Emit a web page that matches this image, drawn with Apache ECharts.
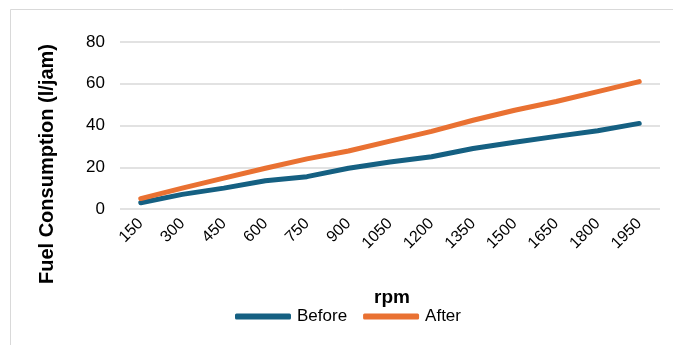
<!DOCTYPE html>
<html>
<head>
<meta charset="utf-8">
<script src="https://cdn.jsdelivr.net/npm/echarts@6/dist/echarts.min.js"></script>
<style>
  html, body { margin: 0; padding: 0; background: #fff; }
  #chart { width: 673px; height: 345px; }
</style>
</head>
<body>
<div id="chart"></div>
<script>
// Engine speed steps (rpm)
const rpm = ['150', '300', '450', '600', '750', '900', '1050', '1200', '1350', '1500', '1650', '1800', '1950'];
// Fuel consumption (l/jam)
const before = [3, 7, 10, 13.5, 15.5, 19.5, 22.5, 25, 29, 32, 34.8, 37.5, 41];
const after = [5, 10, 14.8, 19.5, 24, 27.8, 32.5, 37.2, 42.5, 47.3, 51.5, 56.2, 61];
const yTicks = [0, 20, 40, 60, 80];

const font = '"Liberation Sans", Arial, sans-serif';
const chart = echarts.init(document.getElementById('chart'), null, { renderer: 'canvas' });

chart.setOption({
  animation: false,
  backgroundColor: '#fff',
  grid: { left: 120, right: 13, top: 42, bottom: 136, containLabel: false },
  graphic: [
    {
      type: 'rect',
      shape: { x: 10.5, y: 9.5, width: 700, height: 400 },
      style: { fill: 'none', stroke: '#d9d9d9', lineWidth: 1 },
      silent: true
    },
    {
      type: 'text',
      x: 47, y: 164,
      rotation: Math.PI / 2,
      style: {
        text: 'Fuel Consumption (l/jam)',
        font: 'bold 20px ' + font,
        fill: '#000',
        align: 'center',
        verticalAlign: 'middle'
      }
    },
    {
      type: 'text',
      x: 392, y: 298,
      style: {
        text: 'rpm',
        font: 'bold 19px ' + font,
        fill: '#000',
        align: 'center',
        verticalAlign: 'middle'
      }
    }
  ],
  legend: {
    left: 230,
    top: 303,
    itemWidth: 56,
    itemHeight: 6,
    itemGap: 16,
    icon: 'roundRect',
    textStyle: { fontFamily: font, fontSize: 17, color: '#000', padding: [0, 0, 0, 1] },
    data: ['Before', 'After']
  },
  xAxis: {
    type: 'category',
    data: rpm,
    boundaryGap: true,
    axisLine: { show: false },
    axisTick: { show: false },
    axisLabel: {
      rotate: 45,
      margin: 12,
      interval: 0,
      fontFamily: font,
      fontSize: 16,
      color: '#000'
    }
  },
  yAxis: {
    type: 'value',
    min: yTicks[0],
    max: yTicks[yTicks.length - 1],
    interval: 20,
    axisLine: { show: false },
    axisTick: { show: false },
    axisLabel: { margin: 15, fontFamily: font, fontSize: 17, color: '#000' },
    splitLine: { lineStyle: { color: '#d9d9d9', width: 1.5 } }
  },
  series: [
    {
      name: 'Before',
      type: 'line',
      data: before,
      symbol: 'none',
      color: '#156082',
      lineStyle: { width: 5, cap: 'round', join: 'round' }
    },
    {
      name: 'After',
      type: 'line',
      data: after,
      symbol: 'none',
      color: '#E97132',
      lineStyle: { width: 5, cap: 'round', join: 'round' }
    }
  ]
});
</script>
</body>
</html>
